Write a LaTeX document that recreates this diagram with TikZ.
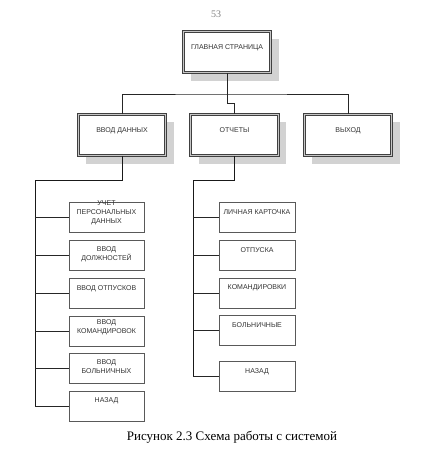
\documentclass[tikz,border=0pt]{standalone}
\usepackage{fontspec}
\setmainfont{Liberation Serif}
\setsansfont{Liberation Sans}
\usetikzlibrary{shadows}

\tikzset{
  topbox/.style={draw=black!75, line width=0.7pt, double=gray!45, double distance=1.2pt,
    fill=white, minimum width=87.5pt, minimum height=41.5pt, inner sep=0pt, outer sep=0pt,
    drop shadow={shadow xshift=8pt, shadow yshift=-8pt, fill=gray!35, opacity=1}},
  subbox/.style={draw=black!65, line width=0.7pt, fill=white, minimum width=75pt,
    minimum height=30pt, inner sep=0pt, outer sep=0pt},
  boxtext/.style={anchor=north, inner sep=0pt, align=center, text=black!80,
    font=\sffamily\fontsize{7}{9}\selectfont},
  link/.style={draw=black!85, line width=0.6pt},
  bus/.style={draw=black!90, line width=0.9pt}
}

\begin{document}
\begin{tikzpicture}[x=1pt, y=-1pt]
\useasboundingbox (0,0) rectangle (421,460);

\node (pagenum) at (216,14) [text=gray, font=\fontsize{10}{12}\selectfont] {53};

\node (main) at (227,52) [topbox, label={[boxtext, yshift=-13pt]north:ГЛАВНАЯ СТРАНИЦА}] {};

\node (vvod) at (122,135) [topbox, label={[boxtext, yshift=-13pt]north:ВВОД ДАННЫХ}] {};
\node (otch) at (234.5,135) [topbox, label={[boxtext, yshift=-13pt]north:ОТЧЕТЫ}] {};
\node (vyhod) at (348,135) [topbox, label={[boxtext, yshift=-13pt]north:ВЫХОД}] {};

\node (l1) at (106.5,217) [subbox, label={[boxtext, yshift=1.5pt]north:УЧЕТ\\ПЕРСОНАЛЬНЫХ\\ДАННЫХ}] {};
\node (l2) at (106.5,255.5) [subbox, label={[boxtext, yshift=-6pt]north:ВВОД\\ДОЛЖНОСТЕЙ}] {};
\node (l3) at (106.5,293) [subbox, label={[boxtext, yshift=-7pt]north:ВВОД ОТПУСКОВ}] {};
\node (l4) at (106.5,331) [subbox, label={[boxtext, yshift=-3pt]north:ВВОД\\КОМАНДИРОВОК}] {};
\node (l5) at (106.5,368) [subbox, label={[boxtext, yshift=-6pt]north:ВВОД\\БОЛЬНИЧНЫХ}] {};
\node (l6) at (106.5,406) [subbox, label={[boxtext, yshift=-6.5pt]north:НАЗАД}] {};

\node (r1) at (257,217) [subbox, minimum width=76pt, label={[boxtext, yshift=-7pt]north:ЛИЧНАЯ КАРТОЧКА}] {};
\node (r2) at (257,255) [subbox, minimum width=76pt, label={[boxtext, yshift=-7pt]north:ОТПУСКА}] {};
\node (r3) at (257,293) [subbox, minimum width=76pt, label={[boxtext, yshift=-6.5pt]north:КОМАНДИРОВКИ}] {};
\node (r4) at (257,330.5) [subbox, minimum width=76pt, label={[boxtext, yshift=-7pt]north:БОЛЬНИЧНЫЕ}] {};
\node (r5) at (257,376) [subbox, minimum width=76pt, label={[boxtext, yshift=-7pt]north:НАЗАД}] {};

\coordinate (busT) at (227,94);
\coordinate (lbus) at (35,180);
\coordinate (rbus) at (193,180);

\draw[link] (main.south) -- (busT);
\draw[link] (vvod.north) |- (busT) -| (vyhod.north);
\draw[link] (busT) -- ++(0,9) -| (otch.north);

\draw[bus] (vvod.south) |- (lbus) -- (lbus |- l6.west);
\foreach \i in {1,...,6}
  \draw[link] (lbus |- l\i.west) -- (l\i.west);

\draw[bus] (otch.south) |- (rbus) -- (rbus |- r5.west);
\foreach \i in {1,...,5}
  \draw[link] (rbus |- r\i.west) -- (r\i.west);

\node (caption) at (232,437) [font=\fontsize{13}{15}\selectfont] {Рисунок 2.3 Схема работы с системой};
\end{tikzpicture}
\end{document}
